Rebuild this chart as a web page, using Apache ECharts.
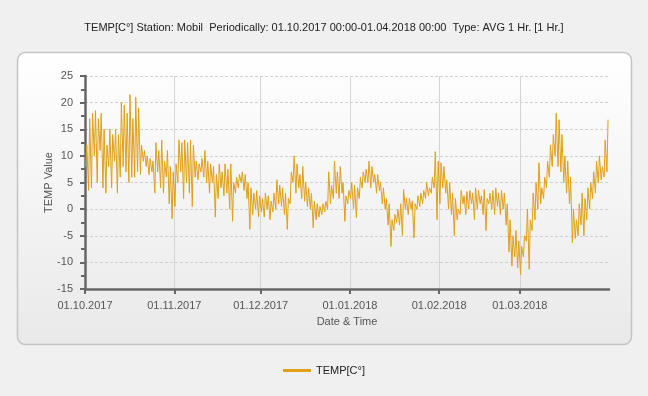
<!DOCTYPE html>
<html><head><meta charset="utf-8">
<script src="https://cdn.jsdelivr.net/npm/echarts@6/dist/echarts.min.js"></script>
<style>html,body{margin:0;padding:0;background:#f0f0f0;}#c{width:648px;height:396px;}</style>
</head><body><div id="c"></div>
<script>
// Daily low / high (°C), 01.10.2017 .. 31.03.2018
const dailyLow = [
 8,3.5,4,10,5,11,4,3,8,4,9,3,6,8,7,5,6,6,7,6.5,9,8,6.5,7,3,7,4,3,6,1,-1.8,
 0.5,5,7,2,5,3,0.5,6,5.5,7,6,5,3,5,-1.5,2,4,2.5,3,0,-2.3,3,4,5,3.5,2,-3.8,-1,0,-1.5,
 -0.5,-1.5,0,-2,-0.5,0,1,0.5,-1,-3.8,1,5,3,4,2,1.5,0.5,0,-3.5,-2,-1.5,-1,-0.5,0,1,2,3,2,3,-2.3,1,
 2,0,-1.6,2,4,5,5,4,5,3,3.5,1,0,-3,-7,-4,-2.5,-3,-5,0,-1,0,-5.4,0,0.5,1,2,2.5,3,4,-2,
 1,4,3,0,-1,-5,-2,-1,1,-1,0,1,-2,0,1,-1,-4,1,0,-1,0.5,-1,0,-3,-8,-10.7,-9,-11,
 -12.3,-9,-6,-11.3,-4,-2,0,1,2,4,6,8,10,8,7,5,3,1,-6.3,-5.5,-5,-3,-5,-2,0,2,3,5,5.5,6,7
];
const dailyHigh = [
 12,17,18,18.5,17,18,15,12,15,14,15,14,20,19.5,18,21.5,17,21,19,12,11,10,9.5,9,12.5,11,13,9,11,8,7,
 8.5,13,12.5,13,12.5,13,12,9,8.5,9.5,11,9,8.5,8,6.5,8.5,7,8.5,7.5,8.5,5,6,6.5,7,6.5,5,4,3,3.5,2.5,
 2,3,2.5,1.5,3,5.5,4.5,4,3,2,7,10,8.5,6.5,8,5,4,3,1.5,1,0.5,1,1.5,7,4.5,9,7,8,5,2.5,3.5,
 5,4.5,4,6,7,7.5,9,8,6.5,6.5,5,4,2,1,-2,-1,0,1,3.7,2,2,1.5,1,2.5,3,3.5,5,4,6,10.8,9,
 8.7,8,5.5,5,3,2,0,3.5,2.5,3.3,3.5,3,4,3.5,2.5,3.7,2,3,3.5,4,3,3.5,3,1,-2,-5,-4,-6,
 -7,-5,0,-2,3,5,8.7,4,6,9,12,14,18,16.8,14,10,9,6,0,-2,1,3,2,4,5,7,9,10,8,13,16.8
];
const xTickLabels = ['01.10.2017','01.11.2017','01.12.2017','01.01.2018','01.02.2018','01.03.2018'];
const yTicks = [-15,-10,-5,0,5,10,15,20,25];
const seriesName = 'TEMP[C°]';

const H = 3600000, D = 24*H;
const start = new Date(2017,9,1).getTime();
const data = [];
for (let d = 0; d < dailyLow.length; d++) {
  data.push([start + d*D + 6*H, dailyLow[d]]);
  data.push([start + d*D + 15*H, dailyHigh[d]]);
}
const pad = n => (n<10?'0':'')+n;
const chart = echarts.init(document.getElementById('c'));
chart.setOption({
  backgroundColor:'#f0f0f0',
  animation:false,
  textStyle:{fontFamily:'Liberation Sans, Arial, sans-serif'},
  graphic:[
    {type:'rect', z:-10, shape:{x:17.5,y:52.5,width:614,height:292,r:8},
     style:{stroke:'#c4c4c4',lineWidth:1.5,
       fill:new echarts.graphic.LinearGradient(0,0,0,1,[{offset:0,color:'#ffffff'},{offset:1,color:'#e9e9e9'}])}},
    {type:'text', left:'center', top:22, style:{text:'TEMP[C°] Station: Mobil  Periodically: 01.10.2017 00:00-01.04.2018 00:00  Type: AVG 1 Hr. [1 Hr.]',
      font:'11px Liberation Sans, Arial, sans-serif', fill:'#222'}}
  ],
  grid:{left:85,right:39,top:76,bottom:107,containLabel:false},
  legend:{bottom:15,left:'center',itemWidth:28,itemHeight:3,icon:'rect',
    textStyle:{fontSize:11,color:'#222'},data:[seriesName]},
  xAxis:{type:'time', min:start, max:new Date(2018,2,31,23).getTime(),
    minInterval:28*D, maxInterval:31*D,
    name:'Date & Time', nameLocation:'middle', nameGap:27,
    nameTextStyle:{fontSize:11,color:'#555'},
    axisLine:{onZero:false,lineStyle:{color:'#666',width:2.5}},
    axisTick:{show:true,length:5,lineStyle:{color:'#666',width:2}},
    axisLabel:{fontSize:11,color:'#555',margin:11,showMaxLabel:false,
      formatter:v=>{const dt=new Date(v); if(dt.getDate()!==1) return ''; return pad(dt.getDate())+'.'+pad(dt.getMonth()+1)+'.'+dt.getFullYear();}},
    splitLine:{show:true,showMaxLine:false,lineStyle:{color:'#d4d4d4',width:1}}
  },
  yAxis:{type:'value', min:-15, max:25, interval:5,
    name:'TEMP Value', nameLocation:'middle', nameGap:31, nameRotate:90, nameMoveOverlap:false,
    nameTextStyle:{fontSize:11,color:'#555'},
    axisLine:{show:true,lineStyle:{color:'#666',width:2.5}},
    axisTick:{show:true,length:5,lineStyle:{color:'#666',width:2}},
    minorTick:{show:true,splitNumber:2,length:4,lineStyle:{color:'#666',width:2}},
    axisLabel:{fontSize:11,color:'#555',margin:12},
    splitLine:{show:true,lineStyle:{color:'#d0d0d0',type:[3,2],width:1}}
  },
  series:[{name:seriesName,type:'line',data:data,showSymbol:false,symbol:'none',
    lineStyle:{color:'#e0a017',width:1},itemStyle:{color:'#e0a017'},z:3}]
});
</script></body></html>
